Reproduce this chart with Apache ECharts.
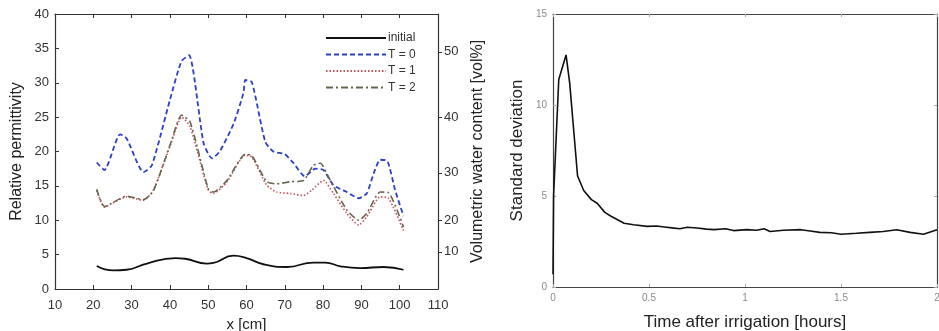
<!DOCTYPE html>
<html>
<head>
<meta charset="utf-8">
<script src="https://cdn.jsdelivr.net/npm/echarts@6/dist/echarts.min.js"></script>
<style>
  html, body { margin: 0; padding: 0; background: #fff; }
  #chart { width: 939px; height: 331px; }
</style>
</head>
<body>
<div id="chart"></div>
<script>
// left panel: permittivity profiles along x [cm]
const xInitial = [20.9, 25.2, 28.7, 34, 41.4, 44, 49.6, 51.4, 56.6, 60, 64.4, 70.5, 77.5, 80.6, 84.5, 89.7, 95.8, 101]
const yInitial = [3.35, 2.7, 2.8, 3.7, 4.5, 4.4, 3.7, 3.8, 4.85, 4.5, 3.6, 3.2, 3.85, 3.85, 3.3, 3.05, 3.2, 2.8]

const xT0 = [20.9, 22.9, 27.0, 28.7, 33.1, 35.3, 40, 43, 45, 48.8, 51, 53, 56.6, 59.2, 59.7, 61.4, 64.9, 67, 70, 72.3, 75.2, 78, 80.1, 82.7, 86.2, 89.3, 91.4, 93.2, 94.9, 96.8, 98.8, 101]
const yT0 = [18.4, 17.3, 22.5, 21.9, 17.0, 18.0, 27.5, 33.1, 34.0, 21.2, 19.0, 20.0, 24, 28.5, 30.4, 30.1, 21.4, 20.0, 19.6, 18.3, 16.4, 17.5, 17.3, 15.1, 14.1, 13.2, 13.9, 16.8, 18.8, 18.6, 14.4, 10.6]

const xT1 = [20.9, 22.9, 24.4, 28.7, 33.1, 35.7, 40, 43.1, 45.3, 50, 51.4, 54.9, 59.7, 61.4, 65.3, 67.9, 71.4, 74.9, 77.1, 80.1, 82.7, 86.2, 89.3, 91.4, 94.9, 97.1, 101]
const yT1 = [14.3, 11.9, 12.3, 13.4, 12.9, 14.4, 20.7, 25.0, 23.6, 14.4, 13.9, 15.6, 19.5, 19.2, 15.1, 14.1, 13.9, 13.6, 14.4, 15.8, 13.9, 11.0, 9.3, 10.5, 13.4, 13.2, 8.5]

const xT2 = [20.9, 22.9, 28.7, 33.1, 35.7, 40, 43.1, 45.3, 50, 51.4, 54.9, 59.7, 61.4, 65.3, 67.9, 71.4, 74.9, 77.5, 79.3, 81.4, 86.2, 89.3, 91.4, 94.9, 97.1, 101]
const yT2 = [14.5, 12.0, 13.5, 13.0, 14.3, 20.9, 25.3, 24.3, 14.6, 14.1, 15.8, 19.6, 19.4, 15.6, 15.3, 15.6, 15.8, 18.0, 18.3, 16.3, 11.5, 10.0, 11.0, 14.1, 14.0, 9.0]

// right-hand scale of the left panel: vol% labels placed at their permittivity values
const volTickEps = [5.4, 10.0, 16.9, 25.0, 34.5]
const volTickLabels = [10, 20, 30, 40, 50]

// right panel: standard deviation over time
const tHours = [0, 0.003, 0.03, 0.068, 0.087, 0.128, 0.16, 0.2, 0.23, 0.27, 0.30, 0.37, 0.42, 0.49, 0.54, 0.58, 0.62, 0.66, 0.70, 0.75, 0.80, 0.84, 0.90, 0.94, 1.01, 1.06, 1.1, 1.13, 1.2, 1.29, 1.34, 1.39, 1.45, 1.5, 1.58, 1.65, 1.72, 1.79, 1.86, 1.93, 2.0]
const stdDev = [0.7, 5.0, 11.4, 12.75, 11.2, 6.1, 5.3, 4.8, 4.6, 4.1, 3.9, 3.5, 3.42, 3.33, 3.35, 3.3, 3.25, 3.2, 3.28, 3.24, 3.18, 3.15, 3.2, 3.1, 3.15, 3.12, 3.2, 3.05, 3.12, 3.15, 3.08, 3.0, 2.98, 2.9, 2.95, 3.0, 3.05, 3.15, 3.0, 2.9, 3.15]

const zip = (xs, ys) => xs.map((x, i) => [x, ys[i]])

const font = 'Liberation Sans'
const labelStyle = { color: '#333', fontSize: 13, fontFamily: font }
const faintLabel = { color: '#8a8a8a', fontSize: 10, fontFamily: font, margin: 6 }
const axisLine = { show: true, onZero: false, lineStyle: { color: '#333', width: 1.2 } }
const axisLineR = { show: true, onZero: false, lineStyle: { color: '#444', width: 1.2 } }
const tickIn = { inside: true, length: 4, lineStyle: { color: '#333' } }
const tickInR = { inside: true, length: 3, lineStyle: { color: '#aaa' } }

const chart = echarts.init(document.getElementById('chart'))
chart.setOption({
  animation: false,
  backgroundColor: '#fff',
  grid: [
    { left: 55, top: 14, width: 383, height: 275, outerBoundsMode: 'none' },
    { left: 553, top: 14, width: 384, height: 273, outerBoundsMode: 'none' }
  ],
  legend: {
    left: 320, top: 27,
    orient: 'vertical',
    itemWidth: 60, itemHeight: 12, itemGap: 4.5,
    itemStyle: { color: 'rgba(0,0,0,0)', borderWidth: 0 },
    textStyle: { color: '#333', fontSize: 12, fontFamily: font, padding: [0, 0, 0, -3] },
    data: ['initial', 'T = 0', 'T = 1', 'T = 2']
  },
  xAxis: [
    { gridIndex: 0, type: 'value', min: 10, max: 110, interval: 10,
      name: 'x [cm]', nameLocation: 'middle', nameGap: 27,
      nameTextStyle: { color: '#222', fontSize: 15, fontFamily: font },
      axisLine, axisTick: tickIn,
      axisLabel: Object.assign({ margin: 10 }, labelStyle), splitLine: { show: false } },
    { gridIndex: 0, type: 'value', position: 'top', min: 10, max: 110, interval: 10,
      axisLine, axisTick: tickIn, axisLabel: { show: false }, splitLine: { show: false } },
    { gridIndex: 1, type: 'value', min: 0, max: 2, interval: 0.5,
      name: 'Time after irrigation [hours]', nameLocation: 'middle', nameGap: 27,
      nameTextStyle: { color: '#222', fontSize: 17, fontFamily: font },
      axisLine: axisLineR, axisTick: tickInR,
      axisLabel: faintLabel, splitLine: { show: false } },
    { gridIndex: 1, type: 'value', position: 'top', min: 0, max: 2, interval: 0.5,
      axisLine: axisLineR, axisTick: tickInR, axisLabel: { show: false }, splitLine: { show: false } }
  ],
  yAxis: [
    { gridIndex: 0, type: 'value', min: 0, max: 40, interval: 5,
      name: 'Relative permittivity', nameLocation: 'middle', nameGap: 30, nameRotate: 90,
      nameTextStyle: { color: '#222', fontSize: 16, fontFamily: font },
      axisLine, axisTick: tickIn,
      axisLabel: Object.assign({ margin: 6 }, labelStyle), splitLine: { show: false } },
    { gridIndex: 0, type: 'value', position: 'right', min: 0, max: 40,
      name: 'Volumetric water content [vol%]', nameLocation: 'middle', nameGap: 32, nameRotate: 90,
      nameTextStyle: { color: '#222', fontSize: 16, fontFamily: font },
      axisLine,
      axisTick: { show: true, length: 4, customValues: volTickEps, lineStyle: { color: '#333' } },
      axisLabel: Object.assign({ margin: 6 }, labelStyle, {
        customValues: volTickEps,
        formatter: v => String(volTickLabels[volTickEps.indexOf(v)])
      }),
      splitLine: { show: false } },
    { gridIndex: 1, type: 'value', min: 0, max: 15, interval: 5,
      name: 'Standard deviation', nameLocation: 'middle', nameGap: 27, nameRotate: 90,
      nameTextStyle: { color: '#222', fontSize: 17, fontFamily: font },
      axisLine: axisLineR, axisTick: tickInR,
      axisLabel: faintLabel, splitLine: { show: false } },
    { gridIndex: 1, type: 'value', position: 'right', min: 0, max: 15, interval: 5,
      axisLine: axisLineR, axisTick: tickInR, axisLabel: { show: false }, splitLine: { show: false } }
  ],
  series: [
    { name: 'initial', type: 'line', xAxisIndex: 0, yAxisIndex: 0, data: zip(xInitial, yInitial),
      smooth: true, symbol: 'none', color: '#111', lineStyle: { color: '#111', width: 1.8, type: 'solid' } },
    { name: 'T = 0', type: 'line', xAxisIndex: 0, yAxisIndex: 0, data: zip(xT0, yT0),
      smooth: 0.2, symbol: 'none', color: '#2b3fc8', lineStyle: { color: '#2b3fc8', width: 1.8, type: [5, 3] } },
    { name: 'T = 1', type: 'line', xAxisIndex: 0, yAxisIndex: 0, data: zip(xT1, yT1),
      smooth: 0.2, symbol: 'none', color: '#c4505a', lineStyle: { color: '#c4505a', width: 1.6, type: [1.5, 2] } },
    { name: 'T = 2', type: 'line', xAxisIndex: 0, yAxisIndex: 0, data: zip(xT2, yT2),
      smooth: 0.2, symbol: 'none', color: '#66654e', lineStyle: { color: '#66654e', width: 1.6, type: [7, 3, 2, 3] } },
    { name: 'std', type: 'line', xAxisIndex: 2, yAxisIndex: 2, data: zip(tHours, stdDev),
      symbol: 'none', lineStyle: { color: '#111', width: 1.6 } }
  ]
})
</script>
</body>
</html>
